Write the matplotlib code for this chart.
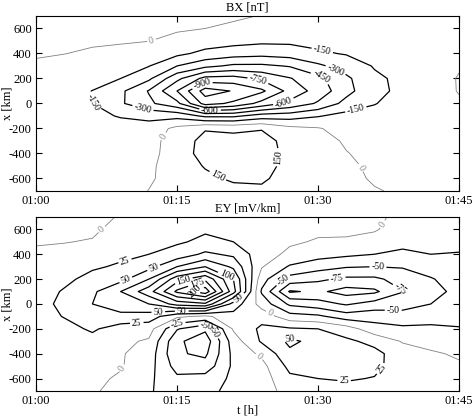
import numpy as np
import matplotlib.pyplot as plt

plt.rcParams['font.family'] = ['Liberation Serif', 'DejaVu Serif']
plt.rcParams['axes.unicode_minus'] = False

# time in minutes after 01:00
t_min = [0, 3, 6, 9, 12, 15, 18, 21, 24, 27, 30, 33, 36, 39, 42, 45]
# x positions in km, from top to bottom
x_km = [700, 600, 500, 400, 300, 200, 100, 0, -100, -200, -300, -400, -500, -600, -700]

# BX [nT], one column per time step (x from +700 down to -700)
bx_cols = [
    [60, 45, 30, 10, -15, -40, -60, -65, -60, -50, -45, -40, -35, -30, -25],
    [60, 45, 28, 2, -35, -75, -105, -105, -85, -65, -55, -45, -40, -35, -30],
    [55, 40, 15, -15, -60, -110, -152, -148, -115, -80, -65, -55, -45, -40, -35],
    [50, 30, 12, -35, -95, -150, -270, -280, -160, -90, -70, -60, -50, -45, -40],
    [45, 25, 2, -70, -145, -270, -460, -420, -190, -90, -60, -50, -25, -12, 2],
    [40, 15, -35, -115, -300, -560, -750, -560, -200, 40, 80, 80, 70, 40, 15],
    [35, 0, -75, -190, -410, -800, -1120, -960, -330, 140, 190, 200, 160, 120, 70],
    [20, -25, -100, -230, -480, -810, -1040, -870, -330, 120, 200, 230, 210, 170, 110],
    [-5, -50, -120, -250, -480, -720, -930, -700, -230, 140, 210, 230, 215, 175, 120],
    [-20, -60, -120, -230, -440, -610, -700, -560, -220, 40, 95, 100, 95, 85, 60],
    [-35, -70, -110, -170, -330, -490, -540, -430, -160, 10, 50, 55, 50, 40, 25],
    [-45, -75, -100, -140, -230, -330, -350, -250, -100, -50, -15, 5, 20, 20, 15],
    [-50, -70, -90, -110, -140, -175, -185, -155, -110, -75, -50, -35, -20, -8, 5],
    [-50, -65, -80, -95, -110, -120, -120, -105, -85, -65, -50, -40, -30, -20, -10],
    [-45, -55, -65, -70, -70, -60, -55, -60, -55, -45, -35, -30, -25, -20, -15],
    [-40, -45, -45, -40, -10, 8, 6, -15, -30, -30, -25, -25, -20, -15, -12],
]

# EY [mV/km], same layout
ey_cols = [
    [-15, -8, -2, 4, 8, 12, 15, 17, 16, 14, 12, 10, 8, 6, 5],
    [-15, -8, -1, 8, 14, 20, 27, 30, 26, 18, 13, 10, 8, 6, 5],
    [-12, -5, 2, 12, 22, 32, 45, 50, 40, 28, 18, 12, 8, 5, 3],
    [3, 10, 15, 20, 28, 42, 75, 70, 40, 15, 5, 2, 2, -3, -8],
    [8, 14, 20, 25, 42, 75, 115, 75, 38, 10, -3, -10, -15, -20, -23],
    [12, 18, 22, 35, 75, 140, 180, 110, 5, -48, -70, -72, -60, -45, -35],
    [15, 22, 30, 55, 100, 170, 215, 120, -5, -70, -90, -80, -65, -40, -30],
    [10, 15, 25, 45, 70, 100, 110, 40, 15, 3, -12, -18, -20, -20, -20],
    [8, 12, 14, 10, 2, -15, -28, -10, 15, 30, 28, 5, -8, -12, -12],
    [10, 6, 3, -5, -28, -60, -103, -55, -15, 28, 55, 45, 32, 20, 10],
    [8, 4, -2, -15, -40, -70, -95, -65, -20, 25, 42, 44, 35, 25, 15],
    [6, 3, -2, -20, -48, -80, -110, -78, -38, 12, 30, 33, 33, 27, 18],
    [4, 2, -8, -25, -50, -80, -105, -65, -35, -15, 18, 32, 30, 24, 15],
    [-5, -10, -18, -30, -48, -65, -76, -60, -40, -20, -2, 12, 15, 12, 8],
    [-8, -12, -18, -25, -38, -52, -60, -50, -35, -20, -8, 3, 8, 8, 6],
    [-10, -14, -20, -26, -32, -38, -42, -38, -30, -24, -12, -3, 3, 5, 4],
]

bx_levels = [-1050, -900, -750, -600, -450, -300, -150, 0, 150]
ey_levels = [-100, -75, -50, -25, 0, 25, 50, 75, 100, 125, 150, 175, 200]

# approximate label spots (minutes, km)
bx_label_pos = [(12.3, 504), (5.8, 8), (11.4, -32), (17.7, 152), (18.5, -48),
                (13.6, -264), (19.3, -584), (23.6, 176), (26.3, 16), (25.3, -424),
                (30.4, 408), (30.2, 192), (31.8, 256), (34.1, -72), (34.6, -512)]
ey_label_pos = [(7.1, 592), (9.5, 336), (12.3, 328), (9.7, 168), (15.7, 192),
                (17.1, 168), (16.9, 112), (20.3, 232), (13.0, -48), (15.5, -48),
                (10.7, -128), (15.0, -144), (18.2, -168), (18.6, -232), (8.9, -504),
                (37.4, 616), (26.0, 216), (21.5, 56), (24.8, -88), (36.4, 336),
                (32.1, 168), (39.3, 192), (38.0, -24), (27.0, -264), (23.9, -408),
                (32.8, -608), (37.4, -568)]

fig = plt.figure(figsize=(4.72, 4.17), dpi=100)
ax1 = fig.add_axes([0.0763, 0.542, 0.8962, 0.4197])
ax2 = fig.add_axes([0.0763, 0.0624, 0.8962, 0.4173])

T, X = np.meshgrid(t_min, x_km)

for ax, cols, levels, lpos, title in [(ax1, bx_cols, bx_levels, bx_label_pos, 'BX [nT]'),
                                      (ax2, ey_cols, ey_levels, ey_label_pos, 'EY [mV/km]')]:
    z = np.array(cols).T
    colors = ['0.5' if lv == 0 else 'k' for lv in levels]
    widths = [0.6 if lv == 0 else 0.9 for lv in levels]
    cs = ax.contour(T, X, z, levels=levels, colors=colors, linewidths=widths)
    ax.clabel(cs, manual=lpos, inline=True, fontsize=7, fmt='%d', inline_spacing=2)

    ax.set_xlim(0, 45)
    ax.set_ylim(-700, 700)
    ax.set_xticks([0, 15, 30, 45])
    ax.set_xticklabels(['01:00', '01:15', '01:30', '01:45'])
    ax.set_yticks(range(-600, 601, 200))
    ax.tick_params(direction='in', top=True, right=True, length=4, labelsize=9, pad=3)
    ax.set_title(title, fontsize=9, pad=4)
    ax.set_ylabel('x [km]', fontsize=9)
    ax.yaxis.set_label_coords(-0.053, 0.5)

ax2.set_xlabel('t [h]', fontsize=9)
ax2.xaxis.set_label_coords(0.5, -0.075)

fig.savefig('out.png', dpi=100)
